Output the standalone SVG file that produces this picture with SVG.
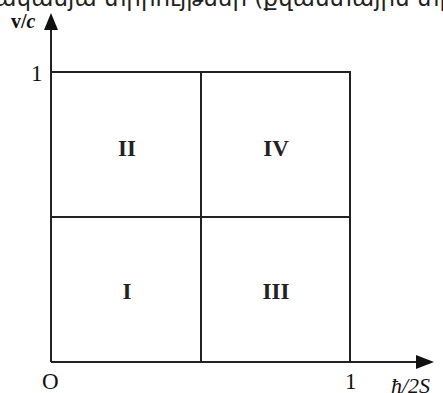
<svg xmlns="http://www.w3.org/2000/svg" width="443" height="393" viewBox="0 0 443 393">
<style>
.ln{stroke:#222;stroke-width:2;fill:none}
.t{font-family:"Liberation Serif",serif;fill:#111}
.r{font-family:"Liberation Serif",serif;font-weight:bold;font-size:23px;fill:#222;text-anchor:middle}
.hd{font-family:"DejaVu Sans",sans-serif;font-size:23px;fill:#222}
</style>
<text class="hd" x="-6" y="6">ականյա տիրույթներ (քվանտային տիրույթ</text>
<g id="connectors">
<path class="ln" d="M51,362 V20" />
<path class="ln" d="M51,362 H425" />
<polygon points="51,13 44,30 58,30" fill="#111"/>
<polygon points="434,362 416,355 416,369" fill="#111"/>
</g>
<g id="grid">
<path class="ln" d="M51,72 H350 V362"/>
<path class="ln" d="M201,72 V362"/>
<path class="ln" d="M51,217 H350"/>
</g>
<g id="labels">
<text class="t" x="11" y="28" font-size="20" font-weight="bold">v/<tspan font-style="italic">c</tspan></text>
<text class="t" x="31" y="81" font-size="23">1</text>
<text class="t" x="42" y="389" font-size="23">O</text>
<text class="t" x="345" y="389" font-size="23">1</text>
<text class="t" x="391" y="393" font-size="22" font-style="italic">ħ/2S</text>
</g>
<g id="region-II"><text class="r" x="127" y="156">II</text></g>
<g id="region-IV"><text class="r" x="276" y="156">IV</text></g>
<g id="region-I"><text class="r" x="127" y="299">I</text></g>
<g id="region-III"><text class="r" x="276" y="299">III</text></g>
</svg>
